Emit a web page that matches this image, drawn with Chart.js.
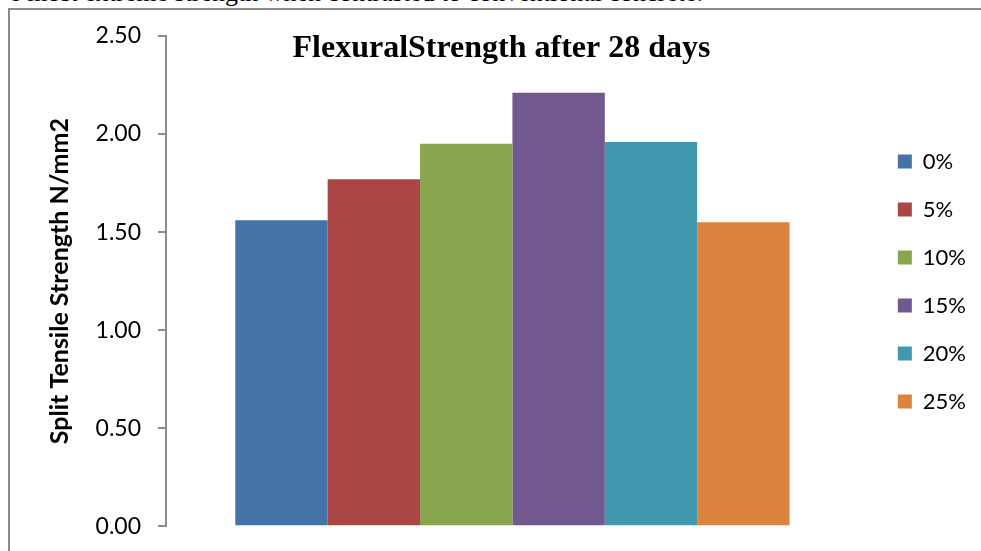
<!DOCTYPE html>
<html>
<head>
<meta charset="utf-8">
<script src="https://cdn.jsdelivr.net/npm/chart.js@4"></script>
<style>
  html, body { margin: 0; padding: 0; background: #fff; overflow: hidden; }
  body { width: 981px; height: 551px; position: relative; }
  #frame { position: absolute; left: 8px; top: 8px; width: 990px; height: 560px;
           border-left: 2px solid #8a8a8a; border-top: 2px solid #8a8a8a; }
  #para { position: absolute; right: 278px; top: -20px; white-space: nowrap;
          font-family: "Liberation Serif", "Times New Roman", serif; font-size: 26px; line-height: 26px; color: #000; }
  #wrap { position: absolute; left: 0; top: 0; width: 981px; height: 557px; }
</style>
</head>
<body>
<div id="para">e most extreme strength when contrasted to conventional concrete.</div>
<div id="frame"></div>
<div id="wrap"><canvas id="c" width="981" height="557"></canvas></div>
<script>
// ---- data ----
const categories = [''];
const seriesLabels = ['0%', '5%', '10%', '15%', '20%', '25%'];
const seriesValues = [1.56, 1.77, 1.95, 2.21, 1.96, 1.55];
const seriesColors = ['#4572A7', '#AA4643', '#89A54E', '#71588F', '#4198AF', '#DB843D'];
const chartTitle = 'FlexuralStrength after 28 days';
const yAxisTitle = 'Split Tensile Strength N/mm2';
const yMin = 0, yMax = 2.5, yStep = 0.5;

const datasets = seriesLabels.map((lab, i) => ({
  label: lab,
  data: [seriesValues[i]],
  backgroundColor: seriesColors[i],
  borderWidth: 0,
  categoryPercentage: 0.8,
  barPercentage: 1.0
}));

const titlePlugin = {
  id: 'titleOverlay',
  afterDraw(chart) {
    const ctx = chart.ctx;
    ctx.save();
    ctx.font = 'bold 32px "Liberation Serif", "Times New Roman", serif';
    ctx.fillStyle = '#000';
    ctx.textAlign = 'center';
    ctx.textBaseline = 'alphabetic';
    ctx.fillText(chartTitle, 501.5, 57);
    ctx.restore();
  }
};

new Chart(document.getElementById('c'), {
  type: 'bar',
  data: { labels: categories, datasets },
  options: {
    responsive: false,
    animation: false,
    devicePixelRatio: 1,
    layout: { padding: { left: 0, right: 5, top: 36, bottom: 30 } },
    plugins: {
      title: { display: false },
      tooltip: { enabled: false },
      legend: {
        position: 'right',
        align: 'center',
        labels: {
          boxWidth: 14,
          boxHeight: 14,
          padding: 26,
          color: '#000',
          font: { family: 'Lato', size: 22 }
        }
      }
    },
    scales: {
      x: { display: false },
      y: {
        min: yMin, max: yMax,
        ticks: {
          stepSize: yStep,
          padding: 17,
          color: '#000',
          font: { family: 'Lato', size: 23 },
          callback: v => Number(v).toFixed(2)
        },
        grid: { drawOnChartArea: false, drawTicks: true, tickLength: 8, color: '#8c8c8c', lineWidth: 2 },
        border: { display: true, color: '#8c8c8c', width: 2 },
        title: {
          display: true,
          text: yAxisTitle,
          color: '#000',
          font: { family: 'Lato', size: 25, weight: 'bold', lineHeight: 1.2 },
          padding: { top: 45, bottom: 0 }
        },
        afterFit: s => { s.width = 166; }
      },
      yPad: {
        position: 'right',
        display: true,
        ticks: { display: false },
        grid: { display: false },
        border: { display: false },
        title: { display: false },
        afterFit: s => { s.width = 13; }
      }
    }
  },
  plugins: [titlePlugin]
});
</script>
</body>
</html>
